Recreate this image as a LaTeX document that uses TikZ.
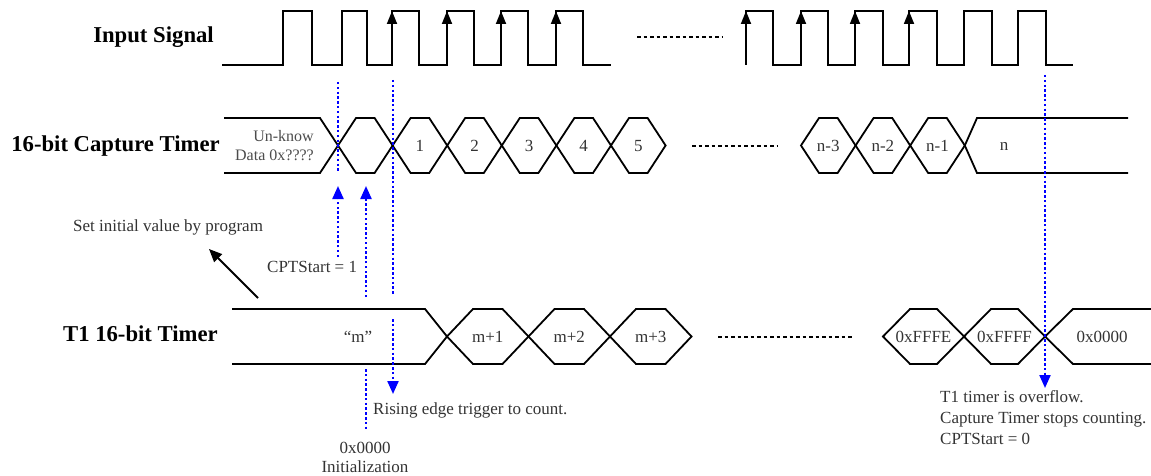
\documentclass[tikz,border=0pt]{standalone}
\usepackage{fontspec}
\setmainfont{Liberation Serif}
\usetikzlibrary{arrows.meta,positioning}

\begin{document}
\begin{tikzpicture}[
  x=1pt, y=-1pt,
  every node/.style={font=\fontsize{17}{21}\selectfont, align=center, inner sep=0pt, text=black!80},
  lbl/.style={font=\fontsize{22.7}{26}\selectfont\bfseries, anchor=east, text=black},
  wave/.style={line width=1.8pt, line join=miter},
  gap/.style={line width=1.3pt, dash pattern=on 3.5pt off 3pt},
  cue/.style={blue, line width=2.2pt, dash pattern=on 2.5pt off 2.3pt},
  cuetip/.style={-{Triangle[length=13pt,width=11pt]}},
  risetip/.style={-{Triangle[length=13pt,width=10pt]}}
]
\useasboundingbox (0,0) rectangle (1151,476);

\node[lbl] (insig) at (214,37) {Input Signal};
\node[lbl] (captlbl) at (220,146) {16-bit Capture Timer};
\node[lbl] (t1lbl) at (218,334) {T1 16-bit Timer};

\draw[wave] (222,65) -- (283,65) -- (283,11) -- (312,11) -- (312,65) -- (342,65) -- (342,11)
  -- (367,11) -- (367,65) -- (392,65) -- (392,11) -- (419,11) -- (419,65) -- (447,65)
  -- (447,11) -- (474,11) -- (474,65) -- (501,65) -- (501,11) -- (528,11) -- (528,65)
  -- (556,65) -- (556,11) -- (583,11) -- (583,65) -- (611,65);
\draw[wave] (746,65) -- (746,11) -- (773,11) -- (773,65) -- (801,65) -- (801,11) -- (828,11)
  -- (828,65) -- (855,65) -- (855,11) -- (883,11) -- (883,65) -- (909,65) -- (909,11)
  -- (937,11) -- (937,65) -- (964,65) -- (964,11) -- (992,11) -- (992,65) -- (1018,65)
  -- (1018,11) -- (1046,11) -- (1046,65) -- (1073,65);
\foreach \x in {392,447,501,556,746,801,855,909}
  \draw[wave, risetip] (\x,65) -- (\x,11);
\draw[gap] (637,37) -- (723,37);

\draw[wave] (224,118) -- (320,118) -- (338,145.5) -- (320,173) -- (224,173);
\node[font=\fontsize{16}{19}\selectfont, align=right, anchor=east, text=black!70] (unk) at (314,146) {Un-know\\Data 0x????};
\foreach \a/\b/\t/\n in {338/392.6//c0, 392.6/447.2/1/c1, 447.2/501.8/2/c2, 501.8/556.4/3/c3,
    556.4/611/4/c4, 611/665.6/5/c5, 801/855.6/n-3/c6, 855.6/910.2/n-2/c7, 910.2/964.8/n-1/c8} {
  \draw[wave] (\a,145.5) -- (\a+18,118) -- (\b-18,118) -- (\b,145.5) -- (\b-18,173) -- (\a+18,173) -- cycle;
  \node (\n) at ({(\a+\b)/2},146) {\t};
}
\draw[wave] (1128,118) -- (977,118) -- (964.8,145.5) -- (977,173) -- (1128,173);
\node (cn) at (1004,146) {n};
\draw[gap] (692,146) -- (778,146);

\draw[wave] (232,309) -- (425,309) -- (447,336.5) -- (425,364) -- (232,364);
\node (tm) at (358,337) {“m”};
\foreach \a/\b/\d/\t/\n in {447/528.5/26/m+1/t1, 528.5/610/26/m+2/t2, 610/691.5/26/m+3/t3,
    883/964/27/0xFFFE/t4, 964/1045/27/0xFFFF/t5} {
  \draw[wave] (\a,336.5) -- (\a+\d,309) -- (\b-\d,309) -- (\b,336.5) -- (\b-\d,364) -- (\a+\d,364) -- cycle;
  \node (\n) at ({(\a+\b)/2},337) {\t};
}
\draw[wave] (1152,309) -- (1073,309) -- (1045,336.5) -- (1073,364) -- (1152,364);
\node (t6) at (1102,337) {0x0000};
\draw[gap] (718,337) -- (854,337);

\node[anchor=west] (setinit) at (73,227) {Set initial value by program};
\node[anchor=west] (cpt1) at (267,267) {CPTStart = 1};
\node[anchor=west] (rising) at (373,410) {Rising edge trigger to count.};
\node[font=\fontsize{17}{19}\selectfont] (init) at (365,457) {0x0000\\Initialization};
\node[anchor=west, align=left] (ovf) at (940,418) {T1 timer is overflow.\\Capture Timer stops counting.\\CPTStart = 0};

\coordinate (prog) at (258,298);
\coordinate (progtip) at (209,249);
\draw[line width=1.8pt, -{Triangle[length=13pt,width=11pt]}] (prog) -- (progtip);

\coordinate (aTop) at (338,82);
\coordinate (aCross) at (338,172);
\coordinate (aLow) at (338,257);
\coordinate (aTip) at (338,186);
\coordinate (bLow) at (366,297);
\coordinate (bTip) at (366,186);
\coordinate (bUnder) at (366,369);
\coordinate (bEnd) at (366,431);
\coordinate (cTop) at (393,80);
\coordinate (cMid) at (393,295);
\coordinate (cIn) at (393,319);
\coordinate (cTip) at (393,394);
\coordinate (dTop) at (1045,75);
\coordinate (dTip) at (1045,388);
\draw[cue] (aTop) -- (aCross);
\draw[cue, cuetip] (aLow) -- (aTip);
\draw[cue, cuetip] (bLow) -- (bTip);
\draw[cue] (bUnder) -- (bEnd);
\draw[cue] (cTop) -- (cMid);
\draw[cue, cuetip] (cIn) -- (cTip);
\draw[cue, cuetip] (dTop) -- (dTip);
\end{tikzpicture}
\end{document}
